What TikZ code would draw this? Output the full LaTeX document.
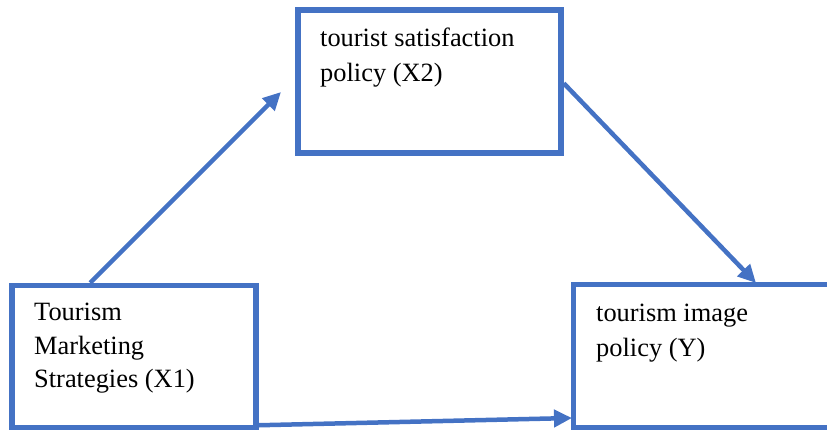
\documentclass[tikz,border=0pt]{standalone}
\usepackage{fontspec}
\setmainfont{Liberation Serif}
\usetikzlibrary{arrows.meta,calc}
\definecolor{boxblue}{HTML}{4472C4}
\tikzset{
  box/.style={draw=boxblue, line width=5.5pt, inner sep=0pt},
  lbl/.style={anchor=base west, inner sep=0pt, font=\fontsize{26.4}{34}\selectfont, align=left, text=black},
  arr/.style={draw=boxblue, line width=4.5pt, -{Triangle[length=18pt,width=17pt]}}
}
\begin{document}
\begin{tikzpicture}[x=1pt,y=-1pt]
\useasboundingbox (0,0) rectangle (827,432);
% boxes
\node[box, minimum width=263pt, minimum height=143pt] (T) at (429.5,81.5) {};
\node[box, minimum width=244pt, minimum height=142pt] (L) at (134,356.5) {};
\node[box, minimum width=262pt, minimum height=143pt] (R) at (704.5,356) {};
% texts
\node[lbl] (t1) at (320,46) {tourist satisfaction};
\node[lbl] (t2) at (320,81.5) {policy (X2)};
\node[lbl] (l1) at (34,320.5) {Tourism};
\node[lbl] (l2) at (34,354) {Marketing};
\node[lbl] (l3) at (34,387.5) {Strategies (X1)};
\node[lbl] (r1) at (596,321) {tourism image};
\node[lbl] (r2) at (596,356.5) {policy (Y)};
% connector end points
\coordinate (a1) at ([xshift=81pt]L.north west);
\coordinate (a2) at (281,92);
\coordinate (b1) at ([yshift=-76pt]T.north east);
\coordinate (b2) at (756,283);
\coordinate (c1) at ([yshift=5pt]L.south east);
\coordinate (c2) at (572,418);
% arrows
\draw[arr] (a1) -- (a2);
\draw[arr] (b1) -- (b2);
\draw[arr] (c1) -- (c2);
\end{tikzpicture}
\end{document}
